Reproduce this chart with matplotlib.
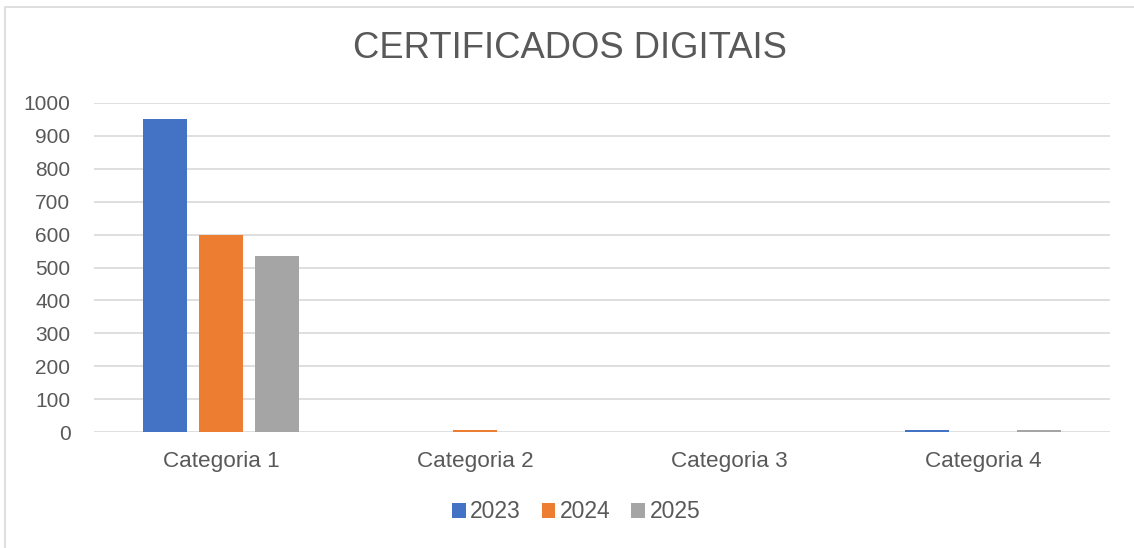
import matplotlib
matplotlib.use("Agg")
import matplotlib.pyplot as plt
from matplotlib.patches import Rectangle, Patch
import numpy as np

plt.rcParams['font.family'] = ['Liberation Sans', 'DejaVu Sans']

categories = ["Categoria 1", "Categoria 2", "Categoria 3", "Categoria 4"]
series_names = ["2023", "2024", "2025"]
values_2023 = [950, 1, 1, 5]
values_2024 = [600, 5, 1, 1]
values_2025 = [535, 1, 1, 5]
colors = ["#4472C4", "#ED7D31", "#A5A5A5"]
yticks = [0, 100, 200, 300, 400, 500, 600, 700, 800, 900, 1000]

W, H = 1134, 548
fig = plt.figure(figsize=(W / 100, H / 100), dpi=100)
fig.patch.set_facecolor("white")

# outer chart border
fig.patches.append(Rectangle((5 / W, -0.1), 1.2, 1 - 7 / H + 0.1, transform=fig.transFigure,
                             fill=False, edgecolor="#D9D9D9", linewidth=1.2))

ax = fig.add_axes([94 / W, 1 - 432 / H, (1110 - 94) / W, (432 - 103) / H])
x = np.arange(len(categories))
bw = 44 / 254
step = 56 / 254
series = [values_2023, values_2024, values_2025]
for i, (vals, c) in enumerate(zip(series, colors)):
    ax.bar(x + (i - 1) * step, vals, width=bw, color=c, zorder=3)

ax.set_xlim(-0.5, len(categories) - 0.5)
ax.set_ylim(0, 1000)
ax.set_yticks(yticks)
ax.set_yticklabels([str(t) for t in yticks])
ax.set_xticks(x)
ax.set_xticklabels(categories)
ax.tick_params(axis="both", length=0, colors="#595959")
ax.tick_params(axis="y", pad=17, labelsize=15)
ax.tick_params(axis="x", pad=14, labelsize=16.2)
for s in ax.spines.values():
    s.set_visible(False)
ax.yaxis.grid(True, color="#D9D9D9", linewidth=1.2, zorder=0)
ax.set_axisbelow(True)

fig.text(570 / W, 1 - 48 / H, "CERTIFICADOS DIGITAIS", ha="center", va="center",
         fontsize=26.2, color="#595959")

handles = [Patch(facecolor=c, edgecolor="none") for c in colors]
fig.legend(handles, series_names, loc="center", bbox_to_anchor=(576 / W, 1 - 512 / H),
           ncol=3, frameon=False, fontsize=16.5, labelcolor="#595959",
           handlelength=0.6, handleheight=0.6, handletextpad=0.2, columnspacing=0.9)

fig.savefig("out.png", dpi=100, facecolor="white")
